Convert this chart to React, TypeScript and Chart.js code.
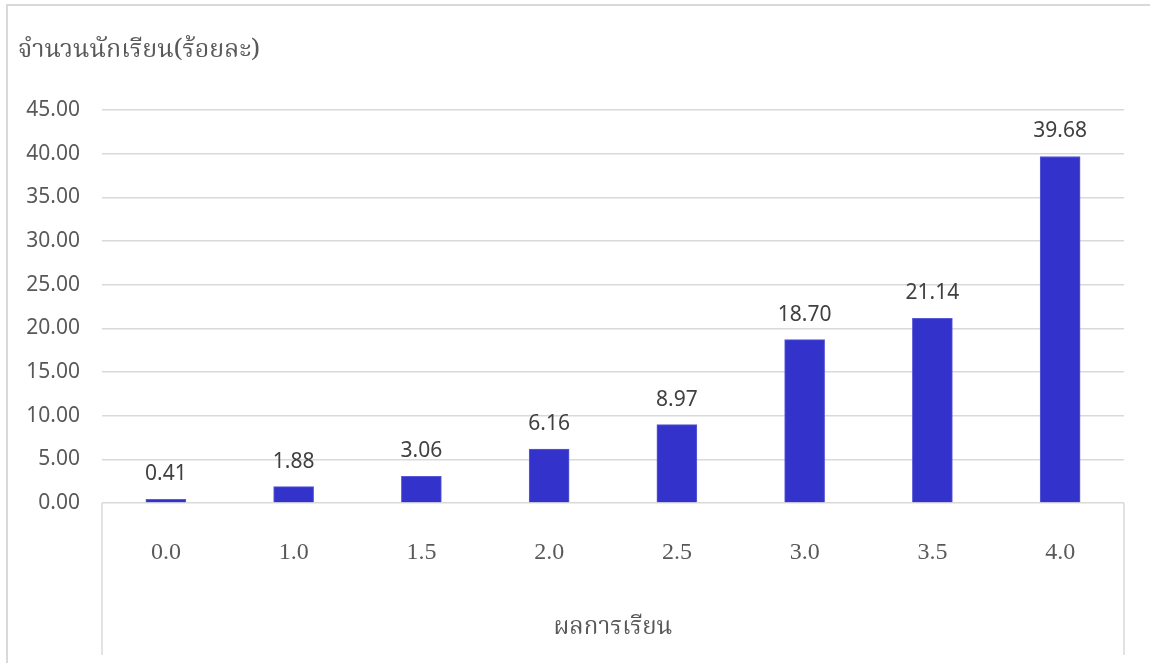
import React, { useEffect, useRef } from "react";
import { Chart, registerables } from "chart.js";

Chart.register(...registerables);

const categories = ["0.0", "1.0", "1.5", "2.0", "2.5", "3.0", "3.5", "4.0"];
const percentValues = [0.41, 1.88, 3.06, 6.16, 8.97, 18.7, 21.14, 39.68];
const yTitle = "จำนวนนักเรียน(ร้อยละ)";
const xTitle = "ผลการเรียน";
const yMin = 0;
const yMax = 45;
const yStep = 5;

const THAI_FONT = "Norasi, 'Noto Serif Thai', 'Liberation Serif', 'Times New Roman', serif";
const NUM_SERIF = "'Liberation Serif', 'Times New Roman', serif";
const SANS_FONT = "'Noto Sans', 'Open Sans', sans-serif";

const valueLabelPlugin = {
  id: "valueLabels",
  afterDatasetsDraw(chart: any) {
    const ctx = chart.ctx;
    const meta = chart.getDatasetMeta(0);
    ctx.save();
    ctx.font = `21px ${SANS_FONT}`;
    ctx.fillStyle = "#404040";
    ctx.textAlign = "center";
    ctx.textBaseline = "alphabetic";
    meta.data.forEach((bar: any, i: number) => {
      const v = chart.data.datasets[0].data[i] as number;
      ctx.fillText(v.toFixed(2), bar.x, bar.y - 19);
    });
    ctx.restore();
  },
};

const categoryFramePlugin = {
  id: "categoryFrame",
  beforeDatasetsDraw(chart: any) {
    const { ctx, chartArea, height } = chart;
    ctx.save();
    ctx.strokeStyle = "#d9d9d9";
    ctx.lineWidth = 1.5;
    ctx.beginPath();
    ctx.moveTo(chartArea.left, chartArea.bottom);
    ctx.lineTo(chartArea.left, height - 8);
    ctx.moveTo(chartArea.right, chartArea.bottom);
    ctx.lineTo(chartArea.right, height - 8);
    ctx.stroke();
    ctx.restore();
  },
};

export default function App() {
  const canvasRef = useRef<HTMLCanvasElement | null>(null);

  useEffect(() => {
    if (!canvasRef.current) return;
    const chart = new Chart(canvasRef.current, {
      type: "bar",
      data: {
        labels: categories,
        datasets: [
          {
            data: percentValues,
            backgroundColor: "#3333cc",
            borderColor: "#5a5ad6",
            borderWidth: 1,
            barThickness: 40,
          },
        ],
      },
      options: {
        animation: false,
        responsive: false,
        maintainAspectRatio: false,
        layout: { padding: { left: 18, right: 26, top: 0, bottom: 0 } },
        plugins: {
          legend: { display: false },
          tooltip: { enabled: false },
          title: {
            display: true,
            text: yTitle,
            align: "start",
            color: "#595959",
            font: { family: THAI_FONT, size: 25, weight: "normal" },
            padding: { top: 38, bottom: 42 },
          },
        },
        scales: {
          x: {
            offset: true,
            grid: { display: false, drawTicks: false },
            border: { display: false },
            ticks: {
              color: "#595959",
              font: { family: NUM_SERIF, size: 24 },
              padding: 35,
            },
            title: {
              display: true,
              text: xTitle,
              color: "#595959",
              font: { family: THAI_FONT, size: 24 },
              padding: { top: 0, bottom: 19 },
            },
            afterFit(scale: any) {
              scale.height = 160;
            },
          },
          y: {
            min: yMin,
            max: yMax,
            grid: {
              color: "#d9d9d9",
              lineWidth: 1.5,
              drawTicks: false,
            },
            border: { display: false },
            ticks: {
              stepSize: yStep,
              color: "#595959",
              font: { family: SANS_FONT, size: 21 },
              padding: 22,
              callback: (v: any) => Number(v).toFixed(2),
            },
            afterFit(scale: any) {
              scale.width = 84;
            },
          },
        },
      },
      plugins: [valueLabelPlugin, categoryFramePlugin],
    });
    return () => chart.destroy();
  }, []);

  return (
    <div
      style={{
        position: "fixed",
        left: 0,
        top: 0,
        width: 1150,
        height: 663,
        overflow: "hidden",
        background: "#ffffff",
      }}
    >
      <div
        style={{
          position: "absolute",
          left: 6,
          top: 4,
          width: 1200,
          height: 800,
          border: "2px solid #d9d9d9",
          boxSizing: "border-box",
        }}
      />
      <canvas
        ref={canvasRef}
        width={1150}
        height={663}
        style={{ position: "absolute", left: 0, top: 0, width: 1150, height: 663 }}
      />
    </div>
  );
}
